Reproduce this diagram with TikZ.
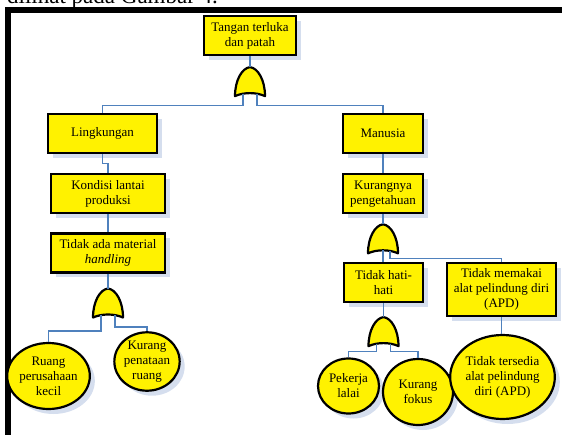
\documentclass[tikz,border=0pt]{standalone}
\usepackage{fontspec}
\setmainfont{Liberation Serif}
\usetikzlibrary{positioning,shapes.geometric,shadows}

\definecolor{shadowblue}{HTML}{D5DEEE}
\definecolor{linkblue}{HTML}{4F81BD}

\tikzset{
   orgate/.pic={
      \path[fill=yellow,draw=black,line width=2.2pt,line join=round]
         (-15,29) .. controls (-15,13) and (-8,1) .. (0,0)
         .. controls (8,1) and (15,13) .. (15,29)
         .. controls (6,25) and (-6,25) .. cycle;
      \coordinate (-top) at (0,0);
      \coordinate (-m)   at (0,26);
      \coordinate (-l)   at (-7,26.5);
      \coordinate (-r)   at (7,26.5);
   }
}

\begin{document}
\begin{tikzpicture}[
      x=1pt, y=-1pt,
      event/.style = {rectangle, draw=black, line width=2.2pt, fill=yellow,
         align=center, inner sep=1pt, font=\fontsize{13}{15}\selectfont,
         general shadow={fill=shadowblue, shadow xshift=5pt, shadow yshift=-5pt}},
      basic/.style = {ellipse, draw=black, line width=2.2pt, fill=yellow,
         align=center, inner sep=0pt, font=\fontsize{13}{15}\selectfont,
         general shadow={fill=shadowblue, shadow xshift=5pt, shadow yshift=-5pt}},
      link/.style  = {draw=linkblue, line width=1.2pt}
]
   \useasboundingbox (0,0) rectangle (562,434);
   \clip (0,0) rectangle (562,434);

   % text above the frame, cut by the page
   \node[anchor=base west, inner sep=0pt, font=\fontsize{23}{26}\selectfont]
      (capt) at (7,3) {dilihat pada Gambar 4.};

   % frame
   \draw[line width=6pt] (620,10) -- (8,10) -- (8,500);

   % top event
   \node[event, minimum width=92pt, minimum height=39pt] (top) at (250,35.5)
      {Tangan terluka\\dan patah};

   % left branch
   \node[event, minimum width=109pt, minimum height=39pt] (ling) at (102.5,133.5)
      {Lingkungan};
   \node[event, minimum width=114pt, minimum height=39pt,
         below=19pt of ling, xshift=5.5pt] (kond) {Kondisi lantai\\produksi};
   \node[event, minimum width=114pt, minimum height=39pt,
         below=18pt of kond] (tdkmat) {Tidak ada material\\\textit{handling}};
   \node[basic, minimum width=69pt, minimum height=66pt] (ruang) at (48.5,376)
      {Ruang\\perusahaan\\kecil};
   \node[basic, minimum width=60pt, minimum height=57pt] (tata) at (147,361.5)
      {Kurang\\penataan\\ruang};

   % right branch
   \node[event, minimum width=80pt, minimum height=39pt] (manu) at (383,133.5)
      {Manusia};
   \node[event, minimum width=80pt, minimum height=39pt,
         below=19pt of manu] (kurp) {Kurangnya\\pengetahuan};
   \node[event, minimum width=79pt, minimum height=39pt] (hati) at (383.5,282.5)
      {Tidak hati-\\hati};
   \node[event, minimum width=109pt, minimum height=53pt] (apd) at (501.5,289.5)
      {Tidak memakai\\alat pelindung diri\\(APD)};
   \node[basic, minimum width=61pt, minimum height=55pt] (lalai) at (348.5,386)
      {Pekerja\\lalai};
   \node[basic, minimum width=70pt, minimum height=66pt] (fokus) at (418,392)
      {Kurang\\fokus};
   \node[basic, minimum width=89pt, minimum height=84pt] (sedia) at (502.5,377)
      {Tidak tersedia\\alat pelindung\\diri (APD)};

   % gates
   \pic (g1) at ([yshift=-11pt]top.south) {orgate};
   \pic (g2) at ([yshift=-15pt]tdkmat.south) {orgate};
   \pic (g3) at ([yshift=-10pt]kurp.south) {orgate};
   \pic (g4) at ([yshift=-14pt]hati.south) {orgate};

   % connectors
   \draw[link] (top.south) -- (g1-top);
   \draw[link] (g1-l) -- ++(0,12) -| (ling.north);
   \draw[link] (g1-r) -- ++(0,12) -| (manu.north);
   \draw[link] (ling.south) -- ++(0,9) -| (kond.north);
   \draw[link] (kond) -- (tdkmat);
   \draw[link] (tdkmat.south) -- (g2-top);
   \draw[link] (g2-l) -- ++(0,16) -| (ruang.north);
   \draw[link] (g2-r) -- ++(0,12) -| (tata.north);
   \draw[link] (manu) -- (kurp);
   \draw[link] (kurp.south) -- (g3-top);
   \draw[link] (g3-m) -- (g3-m |- hati.north);
   \draw[link] (g3-r) -- ++(0,8) -| (apd.north);
   \draw[link] (hati.south) -- (g4-top);
   \draw[link] (g4-l) -- ++(0,8) -| (lalai.north);
   \draw[link] (g4-r) -- ++(0,8) -| (fokus.north);
   \draw[link] (apd.south) -- (apd.south |- sedia.north);
\end{tikzpicture}
\end{document}
